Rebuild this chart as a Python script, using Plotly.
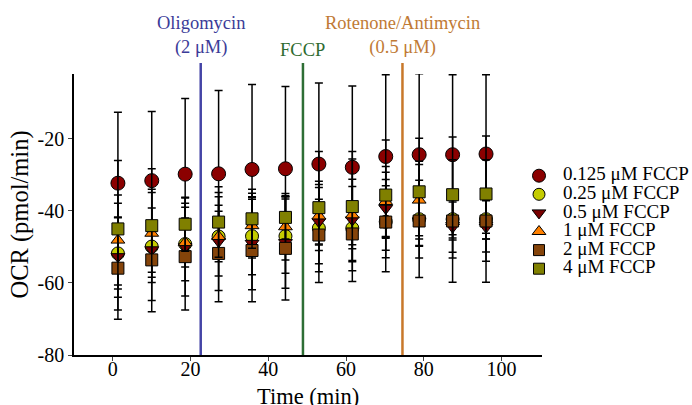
import plotly.graph_objects as go

# Measurement times (min)
times = [1.3, 10.0, 18.6, 27.2, 35.8, 44.4, 53.0, 61.6, 70.2, 78.8, 87.4, 96.0]

# OCR means and SD for each FCCP dose
ocr_0125 = [-32.3, -31.6, -29.8, -29.7, -28.5, -28.3, -27.0, -27.9, -24.9, -24.4, -24.4, -24.2]
sd_0125 = [19.7, 19.2, 21.0, 23.1, 23.6, 22.8, 22.5, 22.6, 22.7, 22.5, 22.2, 22.0]

ocr_025 = [-51.8, -49.9, -49.2, -47.1, -47.0, -47.0, -44.8, -44.8, -43.0, -42.3, -42.3, -42.3]
sd_025 = [9.9, 15.0, 10.2, 11.0, 10.7, 10.3, 12.1, 4.6, 10.0, 10.8, 5.8, 5.5]

ocr_05 = [-52.7, -50.8, -50.0, -48.5, -49.0, -48.8, -43.0, -42.5, -39.3, -42.8, -44.5, -44.5]
sd_05 = [14.8, 6.2, 13.6, 13.6, 12.9, 12.7, 6.2, 11.3, 8.0, 7.0, 8.6, 9.5]

ocr_1 = [-48.1, -46.2, -48.8, -47.1, -44.1, -44.4, -41.4, -41.1, -37.4, -37.0, -42.5, -42.5]
sd_1 = [12.5, 12.2, 6.8, 7.0, 9.0, 9.2, 9.6, 15.5, 9.7, 10.8, 5.0, 5.3]

ocr_2 = [-55.9, -53.6, -52.7, -51.8, -51.0, -50.4, -46.7, -46.4, -43.1, -42.8, -42.8, -42.8]
sd_2 = [14.2, 14.4, 14.8, 13.4, 14.2, 14.3, 13.2, 13.2, 13.8, 15.7, 17.0, 17.0]

ocr_4 = [-45.0, -44.1, -43.7, -43.1, -42.2, -41.8, -39.1, -38.8, -35.6, -34.7, -35.5, -35.3]
sd_4 = [19.0, 15.8, 7.5, 9.8, 8.2, 6.0, 15.6, 15.3, 15.3, 14.9, 16.0, 16.1]

labels = ["0.125 \u03bcM FCCP", "0.25 \u03bcM FCCP", "0.5 \u03bcM FCCP",
          "1 \u03bcM FCCP", "2 \u03bcM FCCP", "4 \u03bcM FCCP"]
means = [ocr_0125, ocr_025, ocr_05, ocr_1, ocr_2, ocr_4]
sds = [sd_0125, sd_025, sd_05, sd_1, sd_2, sd_4]
symbols = ["circle", "circle", "triangle-down", "triangle-up", "square", "square"]
colors = ["#8B0000", "#C4CC00", "#7A0000", "#FF8000", "#85440A", "#808000"]
sizes = [14, 13, 12, 12, 12, 12]

# Axis ticks
x_ticks = [0, 20, 40, 60, 80, 100]
y_ticks = [-80, -60, -40, -20]
y_tick_text = ["-80", "-60", "-40", "-20"]

# Injection events
inj_times = [22.6, 48.9, 74.5]
inj_labels = ["Oligomycin<br>(2 \u03bcM)", "FCCP", "Rotenone/Antimycin<br>(0.5 \u03bcM)"]
inj_line_colors = ["#4444A6", "#2E6E35", "#C8782A"]
inj_text_colors = ["#3B3B98", "#2F6B2F", "#C07A35"]
inj_text_y = [1.137, 1.085, 1.137]

FONT = "Liberation Serif"

fig = go.Figure()

for name, y, e, sym, col, sz in zip(labels, means, sds, symbols, colors, sizes):
    fig.add_trace(go.Scatter(
        x=times, y=y, mode="markers", name=name, showlegend=False,
        marker=dict(symbol=sym, size=sz, color=col, opacity=1,
                    line=dict(color="black", width=1)),
        error_y=dict(type="data", array=e, visible=True, color="black",
                     thickness=1.5, width=4),
        xaxis="x", yaxis="y",
    ))

# Key drawn on a hidden helper axis (units = pixels)
key_rows = [101.7 + 18.6 * i for i in range(len(labels))]
fig.add_trace(go.Scatter(
    x=[15] * len(labels), y=key_rows, mode="markers", showlegend=False,
    marker=dict(symbol=symbols, size=[13, 12, 12, 12, 11, 11], color=colors, opacity=1,
                line=dict(color="black", width=1)),
    xaxis="x2", yaxis="y2", hoverinfo="skip", cliponaxis=False,
))
fig.add_trace(go.Scatter(
    x=[39] * len(labels), y=key_rows, mode="text", text=labels,
    textposition="middle right", showlegend=False,
    textfont=dict(family=FONT, size=19, color="black"),
    xaxis="x2", yaxis="y2", hoverinfo="skip", cliponaxis=False,
))

for t, txt, lc, tc, ty in zip(inj_times, inj_labels, inj_line_colors, inj_text_colors, inj_text_y):
    fig.add_shape(type="line", xref="x", yref="paper", x0=t, x1=t, y0=0, y1=1.039,
                  line=dict(color=lc, width=2.5), layer="above")
    fig.add_annotation(x=t, xref="x", y=ty, yref="paper", text=txt, showarrow=False,
                       xanchor="center", yanchor="middle",
                       font=dict(family=FONT, size=18.5, color=tc))

# x-axis title placed just under the tick labels
fig.add_annotation(x=0.5, xref="x domain", y=-0.149, yref="paper", text="Time (min)",
                   showarrow=False, xanchor="center", yanchor="middle",
                   font=dict(family=FONT, size=22.5, color="black"))

axis_common = dict(showgrid=False, zeroline=False, showline=True, linecolor="black",
                   linewidth=1.5, ticks="outside", ticklen=4, tickcolor="#444",
                   tickfont=dict(family=FONT, size=20, color="black"))

fig.update_layout(
    width=692, height=405,
    margin=dict(l=74, r=2, t=74, b=50),
    paper_bgcolor="white", plot_bgcolor="white",
    font=dict(family=FONT, color="black"),
    xaxis=dict(domain=[0, 468 / 616], range=[-10, 110.4], tickvals=x_ticks,
               ticklabelstandoff=-9, **axis_common),
    yaxis=dict(range=[-80, -2], tickvals=y_ticks, ticktext=y_tick_text,
               title=dict(text="OCR (pmol/min)", font=dict(family=FONT, size=24.5), standoff=2),
               **axis_common),
    xaxis2=dict(domain=[450 / 616, 1], range=[0, 166], visible=False, fixedrange=True),
    yaxis2=dict(domain=[0, 1], range=[281, 0], visible=False, fixedrange=True,
                anchor="x2"),
)

fig.write_html("out.html")
